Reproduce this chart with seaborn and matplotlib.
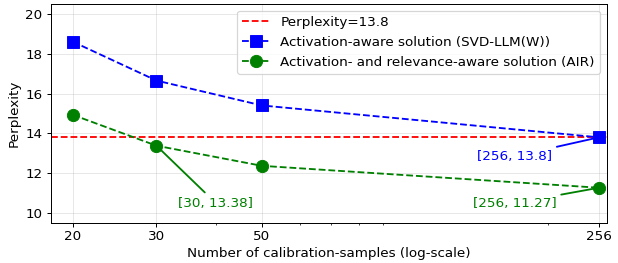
import numpy as np
import pandas as pd
import matplotlib
matplotlib.use("Agg")
import matplotlib.pyplot as plt
import matplotlib.ticker as mticker
import seaborn as sns

samples = [20, 30, 50, 256]
ppl_svd = [18.6, 16.65, 15.4, 13.8]
ppl_air = [14.93, 13.38, 12.37, 11.27]
ref_ppl = 13.8

df = pd.DataFrame({"samples": samples, "svd": ppl_svd, "air": ppl_air})

plt.rcParams["font.family"] = ["DejaVu Sans"]

fig, ax = plt.subplots(figsize=(7.0, 2.98), dpi=88.29)
fig.subplots_adjust(left=0.0825, right=0.982, bottom=0.152, top=0.985)

ax.axhline(ref_ppl, color="red", linestyle="--", linewidth=1.5,
           label="Perplexity=13.8")
sns.lineplot(data=df, x="samples", y="svd", ax=ax, color="blue",
             marker="s", markersize=10, linestyle="--", linewidth=1.5,
             markeredgecolor="blue",
             label="Activation-aware solution (SVD-LLM(W))")
sns.lineplot(data=df, x="samples", y="air", ax=ax, color="green",
             marker="o", markersize=10, linestyle="--", linewidth=1.5,
             markeredgecolor="green",
             label="Activation- and relevance-aware solution (AIR)")

ax.set_xscale("log")
ax.set_xlim(18, 266)
ax.set_ylim(9.5, 20.5)
ax.set_xticks(samples)
ax.xaxis.set_major_formatter(mticker.ScalarFormatter())
ax.xaxis.set_minor_formatter(mticker.NullFormatter())
ax.set_yticks([10, 12, 14, 16, 18, 20])
ax.tick_params(labelsize=11)
ax.tick_params(axis="x", pad=2.5)
ax.grid(True, which="major", alpha=0.3)

ax.annotate("[30, 13.38]", xy=(30, 13.38), xytext=(40, 10.5),
            color="green", ha="center", va="center", fontsize=11,
            arrowprops=dict(arrowstyle="-", color="green", lw=1.5))
ax.annotate("[256, 13.8]", xy=(256, 13.8), xytext=(170, 12.85),
            color="blue", ha="center", va="center", fontsize=11,
            arrowprops=dict(arrowstyle="-", color="blue", lw=1.5))
ax.annotate("[256, 11.27]", xy=(256, 11.27), xytext=(170, 10.5),
            color="green", ha="center", va="center", fontsize=11,
            arrowprops=dict(arrowstyle="-", color="green", lw=1.5))

ax.set_xlabel("Number of calibration-samples (log-scale)", fontsize=11,
              labelpad=3)
ax.set_ylabel("Perplexity", fontsize=11)
ax.legend(loc="upper right", fontsize=11)

plt.savefig("out.png")
